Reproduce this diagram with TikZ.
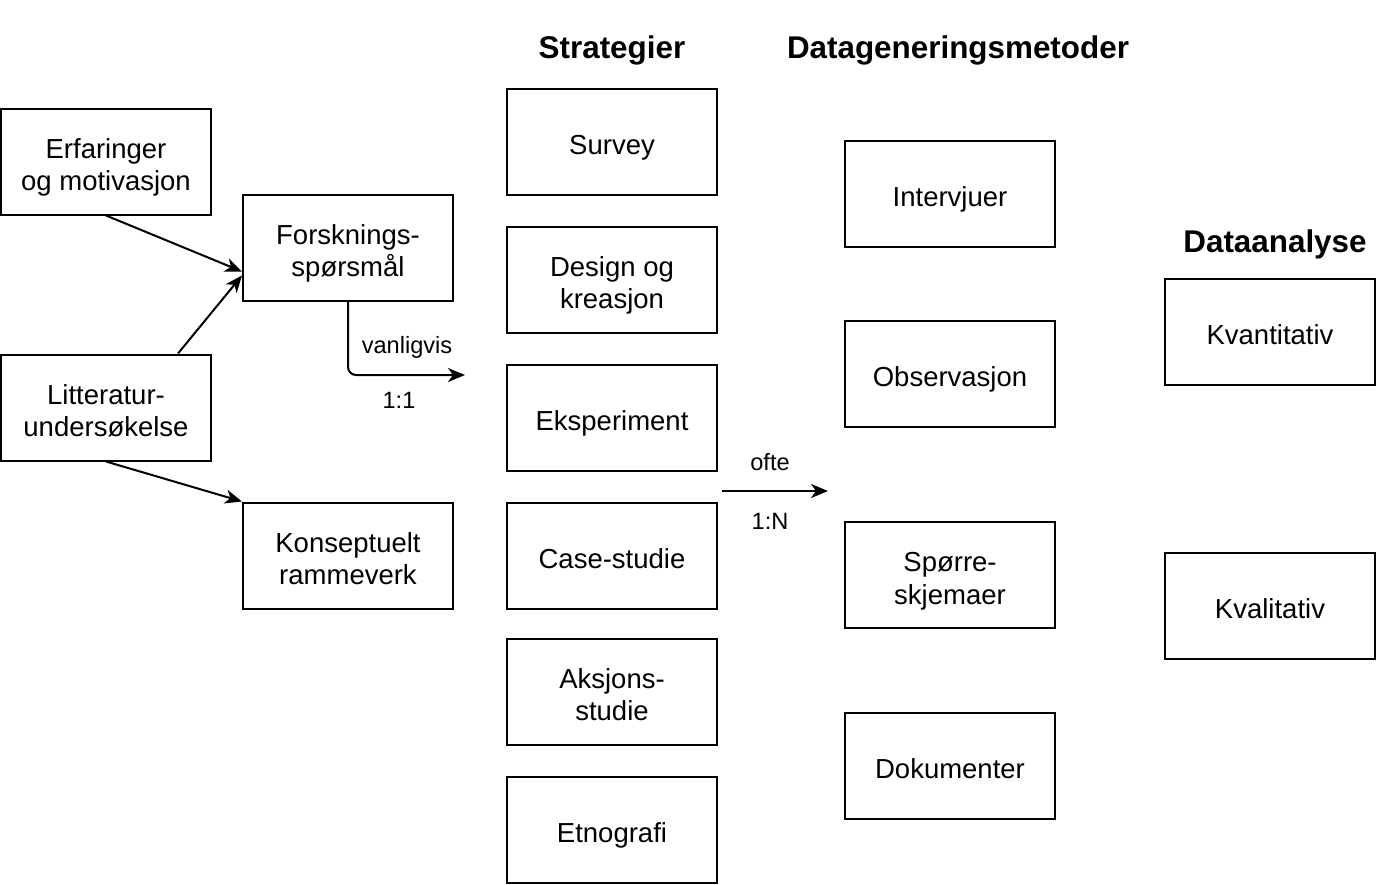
\documentclass[tikz,border=0pt]{standalone}
\usepackage{fontspec}
\setmainfont{Liberation Sans}
\usetikzlibrary{arrows.meta}

\begin{document}
\begin{tikzpicture}[x=0.5pt,y=-0.5pt]
	\tikzstyle{boks}=[rectangle,draw,line width=1pt,minimum width=105pt,minimum height=53pt,align=center,inner sep=0pt,text height=13pt,text depth=0pt,font=\fontsize{13.75}{16.25}\selectfont]
	\tikzstyle{tolinjer}=[text height=29.25pt]
	\tikzstyle{tittel}=[font=\fontsize{15.7}{19}\selectfont\bfseries]
	\tikzstyle{liten}=[font=\fontsize{11.8}{14}\selectfont]
	\tikzstyle{pil}=[-{Stealth[length=8.5pt,width=7pt,inset=2.5pt]},line width=1pt]
	\useasboundingbox (0,0) rectangle (1376,884);
	\node[boks,tolinjer] (erf) at (106,161.5){Erfaringer\\og motivasjon};
	\node[boks,tolinjer] (fors) at (348,247.5){Forsknings-\\spørsmål};
	\node[boks,tolinjer] (lit) at (106,407.5){Litteratur-\\undersøkelse};
	\node[boks,tolinjer] (kons) at (348,555.5){Konseptuelt\\rammeverk};
	\node[tittel] (strat) at (612,50){Strategier};
	\node[boks] (survey) at (612,141.5){Survey};
	\node[boks,tolinjer] (design) at (612,279.5){Design og\\kreasjon};
	\node[boks] (eksp) at (612,417.5){Eksperiment};
	\node[boks] (case) at (612,555.5){Case-studie};
	\node[boks,tolinjer] (aksjon) at (612,691.5){Aksjons-\\studie};
	\node[boks] (etno) at (612,829.5){Etnografi};
	\node[tittel] (datagen) at (958,50){Datageneringsmetoder};
	\node[boks] (interv) at (950,193.5){Intervjuer};
	\node[boks] (obs) at (950,373.5){Observasjon};
	\node[boks,tolinjer] (sporre) at (950,575){Spørre-\\skjemaer};
	\node[boks] (dok) at (950,765.5){Dokumenter};
	\node[tittel] (analyse) at (1275,244){Dataanalyse};
	\node[boks] (kvant) at (1270,331.5){Kvantitativ};
	\node[boks] (kval) at (1270,605.5){Kvalitativ};
	\coordinate (v) at (465,375);
	\coordinate (o1) at (722,491);
	\coordinate (o2) at (828,491);
	\node[liten] (vanlig) at (407,347){vanligvis};
	\node[liten] (en) at (399,400){1:1};
	\node[liten] (ofte) at (770,462){ofte};
	\node[liten] (mange) at (770,521){1:N};
	\draw[pil] (erf.south) -- ([yshift=-12pt]fors.west);
	\draw[pil] ([xshift=36pt]lit.north) -- ([yshift=-14pt]fors.west);
	\draw[pil] (lit.south) -- (kons.north west);
	\draw[pil,rounded corners=4pt] (fors.south) |- (v);
	\draw[pil] (o1) -- (o2);
\end{tikzpicture}
\end{document}
